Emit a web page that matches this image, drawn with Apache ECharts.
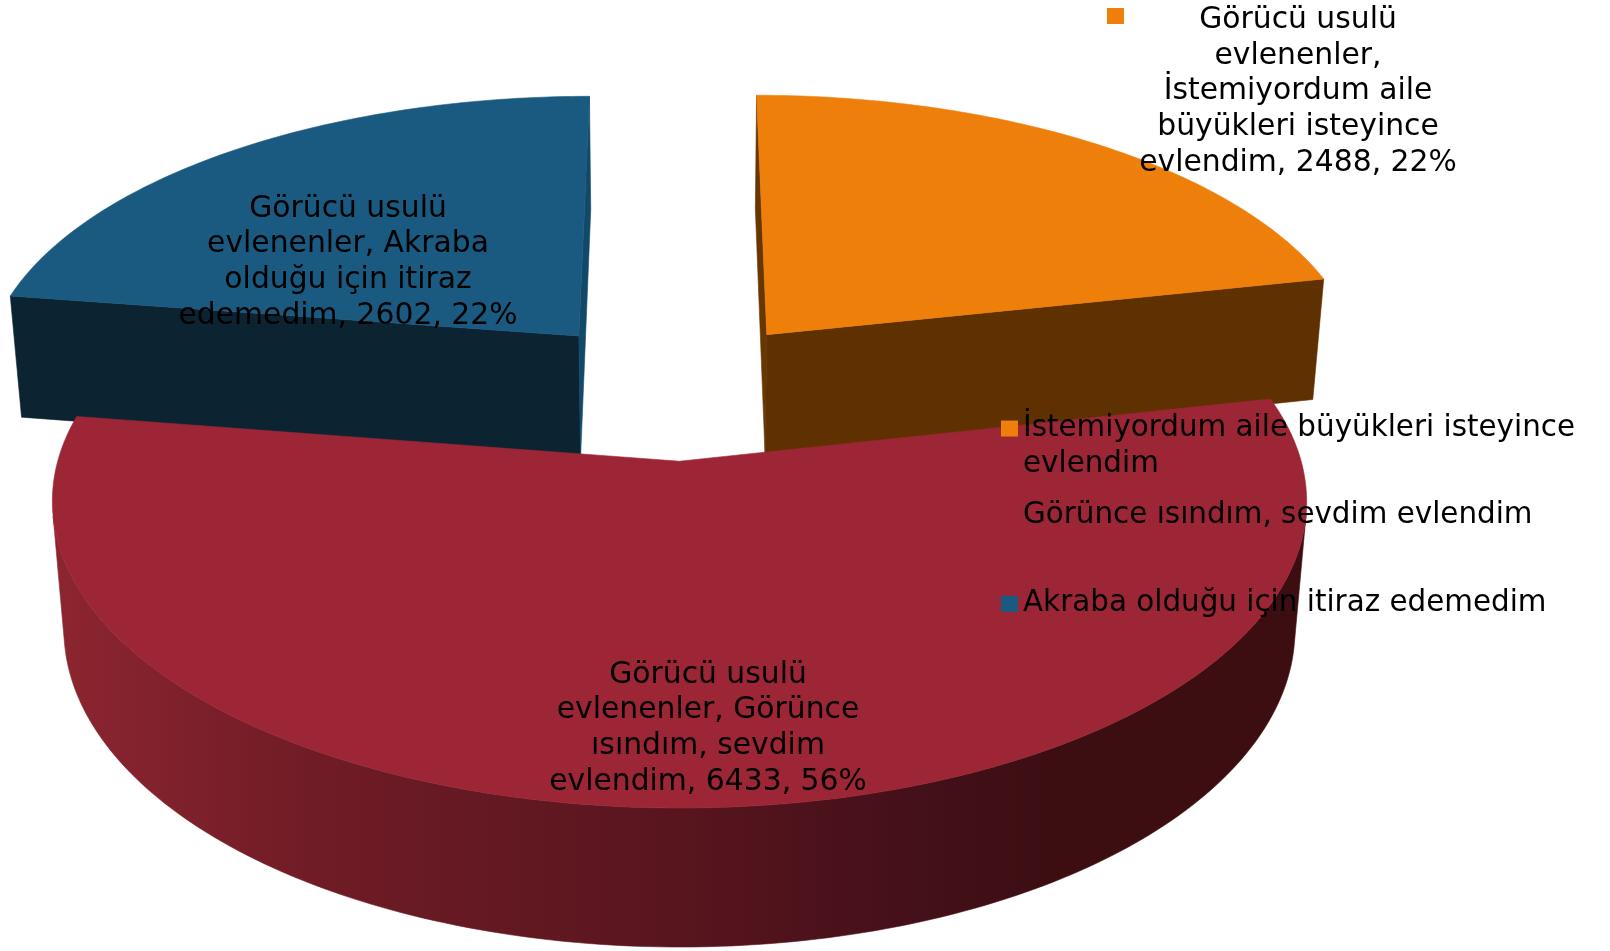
<!DOCTYPE html>
<html>
<head>
<meta charset="utf-8">
<style>html,body{margin:0;padding:0;background:#fff}#c{width:1610px;height:951px}</style>
<script src="https://cdn.jsdelivr.net/npm/echarts@6/dist/echarts.min.js"></script>
</head>
<body>
<div id="c"></div>
<script>
const categories = ["İstemiyordum aile büyükleri isteyince evlendim", "Görünce ısındım, sevdim evlendim", "Akraba olduğu için itiraz edemedim"];
const values = [2488, 6433, 2602];
const percents = [22, 56, 22];
const legendLines = [["İstemiyordum aile büyükleri isteyince", "evlendim"], ["Görünce ısındım, sevdim evlendim"], ["Akraba olduğu için itiraz edemedim"]];
const labelLines = [
  ["Görücü usulü", "evlenenler,", "İstemiyordum aile", "büyükleri isteyince", "evlendim,"],
  ["Görücü usulü", "evlenenler, Görünce", "ısındım, sevdim", "evlendim,"],
  ["Görücü usulü", "evlenenler, Akraba", "olduğu için itiraz", "edemedim,"]
];

const topColors = ["#ee7f0a", "#9c2635", "#1b5a80"];
const arcColors = ["#5f3000", {
  type: 'linear', global: true, x: 60, y: 0, x2: 1300, y2: 0,
  colorStops: [
    { offset: 0, color: '#8c2530' }, { offset: 0.2, color: '#701c26' }, { offset: 0.5, color: '#58151e' },
    { offset: 0.68, color: '#45101a' }, { offset: 0.8, color: '#3c0e12' }, { offset: 1, color: '#3c0e12' }
  ]
}, "#0c2331"];
const startEdgeColors = ["#683600", "#58151e", "#0c2331"];
const endEdgeColors = ["#5f3000", "#58151e", "#124868"];
const labelCentres = [[1298, 91.5], [708, 728.5], [348, 262.5]];
const keyBoxes = [[1107, 8], [517, 665], [148, 197]];
const legendTops = [375, 498, 586];
const FONT = "'DejaVu Sans', Verdana, sans-serif";
const LABEL_SIZE = 29.8;
const LEGEND_SIZE = 29.4;
const LINE_H = 35.7;

// perspective camera fitted to the picture
const cam = { cx: 674.6, cy: 388.3, a: 602, b: 282.5, k: 0.127, m: 0.018, h: 127, explode: 0.25 };
function project(X, Z, t) {
  const w = 1 - cam.k * Z + cam.m * t;
  return [cam.cx + cam.a * X / w, cam.cy + (cam.b * Z + cam.h * t) / w];
}
const total = values.reduce((s, v) => s + v, 0);

function poly(points, color) {
  return { type: 'polygon', silent: true, shape: { points }, style: { fill: color, stroke: color, lineWidth: 0.6 } };
}
function area(q) {
  let s = 0;
  for (let i = 0; i < q.length; i++) {
    const a = q[i], b = q[(i + 1) % q.length];
    s += a[0] * b[1] - b[0] * a[1];
  }
  return s;
}
function makeRender(idx) {
  return function (params, api) {
    const val = api.value(0);
    const before = values.slice(0, idx).reduce((s, v) => s + v, 0);
    const th0 = before / total * 2 * Math.PI;
    const th1 = th0 + val / total * 2 * Math.PI;
    const mid = (th0 + th1) / 2;
    const ex = cam.explode * Math.sin(mid), ez = -cam.explode * Math.cos(mid);
    const rim = [];
    const steps = Math.ceil((th1 - th0) / (Math.PI / 180));
    for (let i = 0; i <= steps; i++) {
      const th = th0 + (th1 - th0) * i / steps;
      rim.push([ex + Math.sin(th), ez - Math.cos(th)]);
    }
    const apex = [ex, ez];
    const quad = (A, B) => [project(A[0], A[1], 0), project(B[0], B[1], 0), project(B[0], B[1], 1), project(A[0], A[1], 1)];
    const children = [];
    // radial walls, only when they face the viewer
    const qs = quad(apex, rim[0]);
    if (area(qs) < 0) children.push(poly(qs, startEdgeColors[idx]));
    const qe = quad(rim[rim.length - 1], apex);
    if (area(qe) < 0) children.push(poly(qe, endEdgeColors[idx]));
    // outer wall: one band over the rim steps that face the viewer
    const vis = [];
    for (let i = 0; i < rim.length - 1; i++) {
      if (area(quad(rim[i], rim[i + 1])) < 0) {
        if (!vis.length) vis.push(rim[i]);
        vis.push(rim[i + 1]);
      }
    }
    if (vis.length) {
      const band = vis.map(p => project(p[0], p[1], 0)).concat(vis.slice().reverse().map(p => project(p[0], p[1], 1)));
      children.push(poly(band, arcColors[idx]));
    }
    children.push(poly([apex].concat(rim).map(p => project(p[0], p[1], 0)), topColors[idx]));
    const lines = labelLines[idx].slice();
    lines[lines.length - 1] += ` ${val}, ${percents[idx]}%`;
    children.push({
      type: 'rect', silent: true,
      shape: { x: keyBoxes[idx][0], y: keyBoxes[idx][1], width: 17, height: 16 },
      style: { fill: topColors[idx] }
    });
    children.push({
      type: 'text', silent: true,
      style: {
        text: lines.join('\n'), x: labelCentres[idx][0], y: labelCentres[idx][1],
        align: 'center', verticalAlign: 'middle', fontFamily: FONT, fontSize: LABEL_SIZE,
        lineHeight: LINE_H, fill: '#000'
      }
    });
    return { type: 'group', children };
  };
}

const drawOrder = [0, 2, 1];
const option = {
  animation: false,
  backgroundColor: '#fff',
  legend: categories.map((c, i) => ({
    show: true,
    data: [c],
    left: 1001,
    top: legendTops[i],
    padding: 0,
    itemWidth: 17,
    itemHeight: 16,
    itemGap: 0,
    selectedMode: false,
    icon: 'rect',
    formatter: () => (i === 0 ? '\n' : '') + legendLines[i].join('\n'),
    textStyle: { fontFamily: FONT, fontSize: LEGEND_SIZE, lineHeight: LINE_H, color: '#000' }
  })),
  series: drawOrder.map(i => ({
    type: 'custom',
    name: categories[i],
    coordinateSystem: 'none',
    clip: false,
    silent: true,
    itemStyle: { color: topColors[i] },
    renderItem: makeRender(i),
    encode: { value: 0 },
    data: [[values[i]]]
  }))
};
const chart = echarts.init(document.getElementById('c'), null, { renderer: 'canvas' });
chart.setOption(option);
</script>
</body>
</html>
